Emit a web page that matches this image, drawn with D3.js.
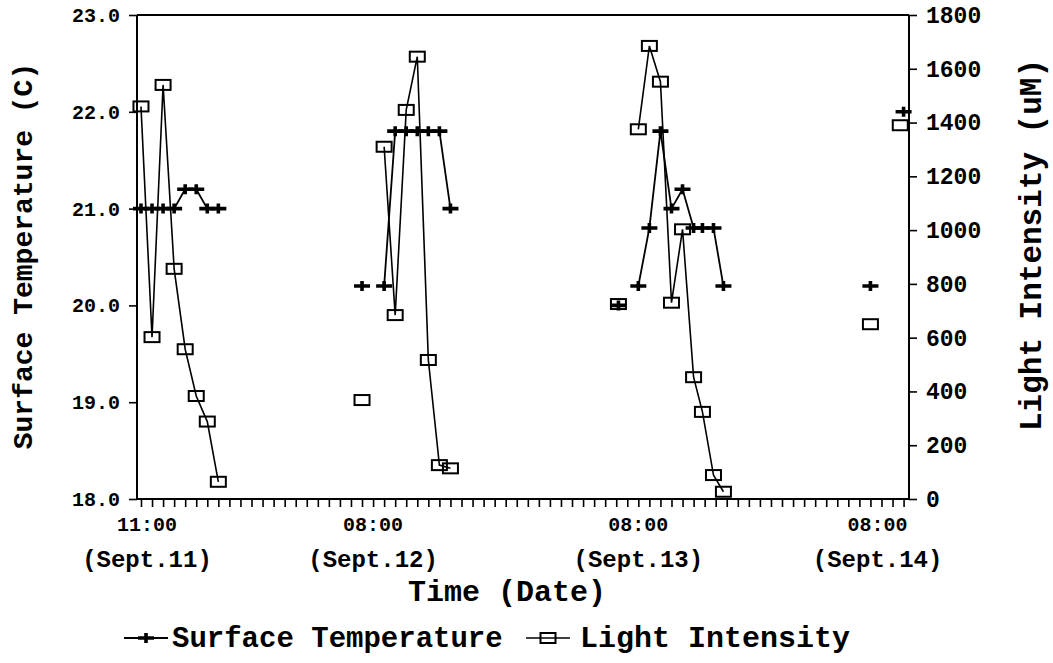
<!DOCTYPE html>
<html>
<head>
<meta charset="utf-8">
<script src="https://cdn.jsdelivr.net/npm/d3@7"></script>
<style>
  html, body { margin: 0; padding: 0; background: #fff; }
  svg { display: block; }
  text { font-family: "Liberation Mono", "Courier New", monospace; font-weight: bold; fill: #000; }
</style>
</head>
<body>
<script>
// ---- data (hours counted from Sept.11 00:00; null = no reading) ----
const hours = [11, 12, 13, 14, 15, 16, 17, 18, 24,
               31, 32,
               33, 34, 35, 36, 37, 38, 39, 46,
               54.2, 55,
               56, 57, 58, 59, 60, 61, 61.8, 62.8, 63.7, 70,
               77, 78,
               79.7, 80];
const surfaceTemperature = [21.0, 21.0, 21.0, 21.0, 21.2, 21.2, 21.0, 21.0, null,
               20.2, null,
               20.2, 21.8, 21.8, 21.8, 21.8, 21.8, 21.0, null,
               20.0, null,
               20.2, 20.8, 21.8, 21.0, 21.2, 20.8, 20.8, 20.8, 20.2, null,
               20.2, null,
               null, 22.0];
const lightIntensity = [1460, 602, 1540, 856, 557, 383, 288, 64, null,
               368, null,
               1310, 684, 1447, 1645, 517, 126, 114, null,
               725, null,
               1375, 1685, 1552, 730, 1003, 453, 324, 89, 27, null,
               650, null,
               1390, null];
const xLabelHours = [11, 32, 56, 80];
const xLabelTimes = ["11:00", "08:00", "08:00", "08:00"];
const xLabelDates = ["(Sept.11)", "(Sept.12)", "(Sept.13)", "(Sept.14)"];
const tempTicks = [18, 19, 20, 21, 22, 23];
const lightTicks = [0, 200, 400, 600, 800, 1000, 1200, 1400, 1600, 1800];
const seriesNames = ["Surface Temperature", "Light Intensity"];

// ---- layout ----
const W = 1053, H = 663;
const L = 137, R = 909, T = 15, B = 499;

const svg = d3.select("body").append("svg").attr("width", W).attr("height", H);
svg.append("rect").attr("width", W).attr("height", H).attr("fill", "#fff");

const x = d3.scaleLinear().domain([10.64, 80.49]).range([L, R]);
const yT = d3.scaleLinear().domain([18, 23]).range([B, T]);
const yL = d3.scaleLinear().domain([0, 1800]).range([B, T]);

const rows = hours.map((h, i) => ({h, t: surfaceTemperature[i], l: lightIntensity[i]}));

// frame top
svg.append("line").attr("x1", L).attr("x2", R).attr("y1", T).attr("y2", T)
  .attr("stroke", "#000").attr("stroke-width", 2);

// axes
const gx = svg.append("g").attr("transform", `translate(0,${B})`)
  .call(d3.axisBottom(x).tickValues(d3.range(11, 81)).tickSize(8).tickSizeOuter(0).tickFormat(""));
const gl = svg.append("g").attr("transform", `translate(${L},0)`)
  .call(d3.axisLeft(yT).tickValues(tempTicks).tickSize(8).tickSizeOuter(0).tickPadding(9).tickFormat(d3.format(".1f")));
const gr = svg.append("g").attr("transform", `translate(${R},0)`)
  .call(d3.axisRight(yL).tickValues(lightTicks).tickSize(8).tickSizeOuter(0).tickPadding(9).tickFormat(d3.format("d")));
[gx, gl, gr].forEach(g => {
  g.select(".domain").attr("stroke", "#000").attr("stroke-width", 2);
  g.selectAll(".tick line").attr("stroke", "#000").attr("stroke-width", 1.6);
  g.selectAll("text").attr("font-family", null).attr("font-weight", null);
});
gl.selectAll("text").attr("font-size", 20);
gr.selectAll("text").attr("font-size", 23);
gx.select(".domain").attr("d", `M${L},0H${R}`);
gl.select(".domain").attr("d", `M0,${T}V${B}`);
gr.select(".domain").attr("d", `M0,${T}V${B}`);

// x labels (two lines)
const labelShift = h => (h === xLabelHours[0] ? 6 : h === xLabelHours[xLabelHours.length - 1] ? -26 : 0);
const xl = svg.append("g");
xLabelHours.forEach((h, i) => {
  const cx = x(h) + labelShift(h);
  xl.append("text").attr("x", cx).attr("y", 531).attr("text-anchor", "middle")
    .attr("font-size", 20).text(xLabelTimes[i]);
  xl.append("text").attr("x", cx).attr("y", 567).attr("text-anchor", "middle")
    .attr("font-size", 24).text(xLabelDates[i]);
});

// axis titles
svg.append("text").attr("x", 507).attr("y", 601).attr("text-anchor", "middle")
  .attr("font-size", 30).text("Time (Date)");
svg.append("text").attr("transform", `translate(32,256) rotate(-90)`).attr("text-anchor", "middle")
  .attr("font-size", 28).text("Surface Temperature (C)");
svg.append("text").attr("transform", `translate(1041,245) rotate(-90)`).attr("text-anchor", "middle")
  .attr("font-size", 31).text("Light Intensity (uM)");

// lines
const lineT = d3.line().defined(d => d.t != null).x(d => x(d.h)).y(d => yT(d.t));
const lineL = d3.line().defined(d => d.l != null).x(d => x(d.h)).y(d => yL(d.l));
svg.append("path").datum(rows).attr("d", lineL).attr("fill", "none").attr("stroke", "#000").attr("stroke-width", 1.6);
svg.append("path").datum(rows).attr("d", lineT).attr("fill", "none").attr("stroke", "#000").attr("stroke-width", 1.8);

// markers
const plusPath = "M-8,0H8M0,-5V5";
const sqW = 15, sqH = 10;
svg.append("g").selectAll("rect").data(rows.filter(d => d.l != null)).join("rect")
  .attr("x", d => x(d.h) - sqW / 2).attr("y", d => yL(d.l) - sqH / 2)
  .attr("width", sqW).attr("height", sqH)
  .attr("fill", "none").attr("stroke", "#000").attr("stroke-width", 2);
svg.append("g").selectAll("path").data(rows.filter(d => d.t != null)).join("path")
  .attr("transform", d => `translate(${x(d.h)},${yT(d.t)})`)
  .attr("d", plusPath).attr("stroke", "#000").attr("stroke-width", 3.6).attr("fill", "none");

// legend
const lg = svg.append("g").attr("transform", "translate(0,638)");
lg.append("line").attr("x1", 124).attr("x2", 168).attr("stroke", "#000").attr("stroke-width", 1.8);
lg.append("path").attr("transform", "translate(146,0)").attr("d", plusPath).attr("stroke", "#000").attr("stroke-width", 3.6);
lg.append("text").attr("x", 172).attr("y", 9).attr("font-size", 29).text(seriesNames[0]);
lg.append("line").attr("x1", 526).attr("x2", 570).attr("stroke", "#000").attr("stroke-width", 1.6);
lg.append("rect").attr("x", 548 - sqW / 2).attr("y", -sqH / 2).attr("width", sqW).attr("height", sqH)
  .attr("fill", "none").attr("stroke", "#000").attr("stroke-width", 2);
lg.append("text").attr("x", 580).attr("y", 9).attr("font-size", 30).text(seriesNames[1]);
</script>
</body>
</html>
